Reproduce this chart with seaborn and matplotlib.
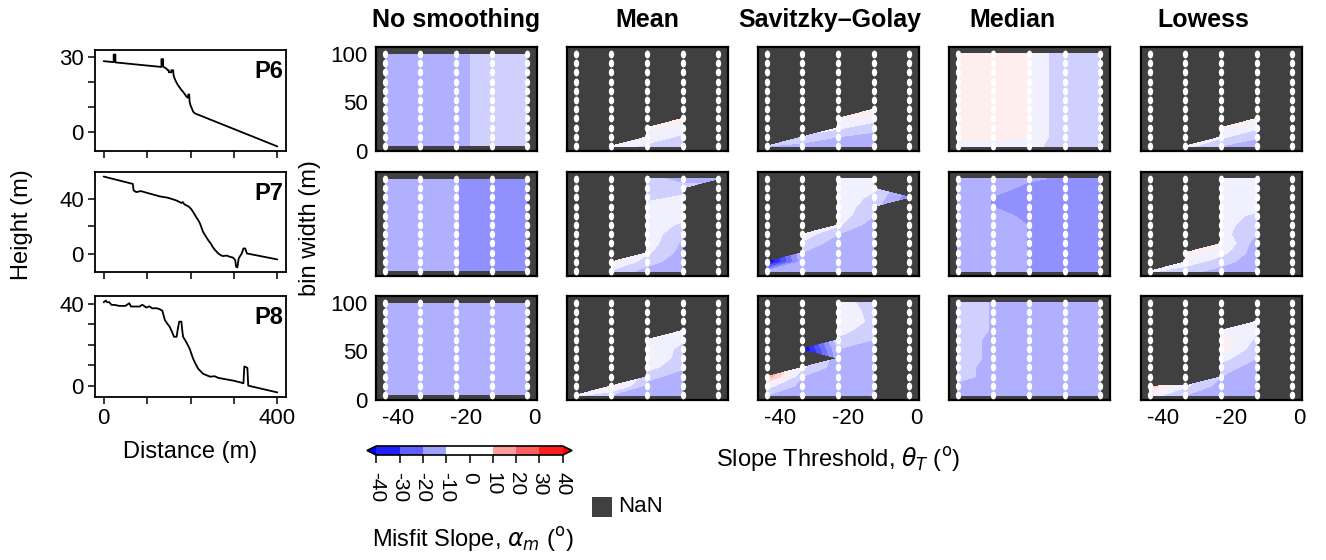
import numpy as np
import pandas as pd
import matplotlib
matplotlib.use("Agg")
import matplotlib.pyplot as plt
import seaborn as sns
from matplotlib.path import Path
from matplotlib.markers import MarkerStyle
from matplotlib.colors import ListedColormap, BoundaryNorm, Normalize
from matplotlib.cm import ScalarMappable
from matplotlib.patches import Rectangle

N = np.nan

# ---------------- profile data ----------------
profile_names = ["P6", "P7", "P8"]
p6_distance = [0, 23, 23, 27, 27, 133, 133, 137, 137, 144, 148, 150, 150, 156, 156, 160, 161,
               163, 166, 170, 174, 178, 182, 186, 190, 194, 195, 197, 198, 200, 203, 206, 210, 400]
p6_height = [28.2, 27.8, 30.8, 30.8, 27.7, 25.9, 29.0, 29.0, 26.0, 25.3, 24.6, 24.6, 23.8, 23.8, 24.6,
             24.6, 22.6, 21.5, 20.3, 19.0, 18.0, 17.0, 16.2, 15.3, 14.3, 13.7, 15.0, 15.0, 12.0, 10.7,
             9.5, 8.2, 7.5, -5.6]
p7_distance = [0, 67, 69, 75, 86, 100, 113, 129, 148, 160, 167, 175, 179, 182, 186, 195, 201, 207,
               213, 218, 222, 229, 235, 241, 247, 252, 258, 264, 270, 275, 283, 291, 298, 303, 305,
               308, 311, 318, 322, 326, 330, 400]
p7_height = [56, 50.7, 46, 44.8, 45.5, 44.2, 43.1, 41.7, 40.7, 39.5, 38.8, 37.6, 36.9, 37.6, 35.9,
             34.5, 32.8, 30.0, 26.8, 24.5, 22, 16, 13, 10, 7.5, 4.8, 2.5, 0.5, -0.8, -1.4, -1.0,
             -1.9, -2.5, -4.3, -9.1, -9.6, -3.1, 0.5, 4.1, 4.1, 0.5, -3.8]
p8_distance = [0, 5, 8, 13, 18, 25, 36, 50, 59, 63, 72, 83, 88, 91, 98, 105, 112, 121, 129, 135,
               141, 146, 152, 157, 162, 168, 171, 174, 179, 181, 183, 190, 198, 206, 212, 218, 229,
               245, 256, 264, 300, 322, 324, 331, 333, 400]
p8_height = [40.8, 41.6, 40.8, 40.8, 39.5, 39.5, 39.0, 39.0, 40.3, 38.7, 38.7, 38.7, 39.5, 39.3,
             38.2, 38.8, 37.8, 37.9, 37.4, 36.7, 32.1, 30.5, 28.8, 26.5, 23.9, 23.9, 28.0, 31.3,
             31.3, 27.0, 23.9, 21.4, 18.1, 13.2, 10.5, 8.2, 5.8, 4.4, 4.6, 3.8, 2.4, 1.2, 9.4, 8.7,
             0.0, -3.3]
profile_yticks = [[0, 10, 20, 30], [0, 20, 40], [0, 10, 20, 30, 40]]

# ---------------- misfit grids ----------------
method_names = ["No smoothing", "Mean", "Savitzky\u2013Golay", "Median", "Lowess"]
slope_thresholds = [-44, -33.5, -23, -12.5, -2]
bin_widths = [5, 14.5, 24, 33.5, 43, 52.5, 62, 71.5, 81, 90.5, 100]
# rows: bin widths (bottom -> top); columns: slope thresholds

p6_none = [[-12, -12, -12, -7, -7], [-12, -12, -12, -7, -7], [-12, -12, -12, -7, -7],
           [-12, -12, -12, -7, -7], [-12, -12, -12, -7, -7], [-12, -12, -12, -7, -7],
           [-12, -12, -12, -7, -7], [-12, -12, -12, -7, -7], [-12, -12, -12, -7, -7],
           [-12, -12, -12, -7, -7], [-12, -12, -12, -7, -7]]
p6_mean = [[N, -2, -6, -10, N], [N, N, -2, -6, N], [N, N, 1, -2, N], [N, N, N, 2, N],
           [N, N, N, N, N], [N, N, N, N, N], [N, N, N, N, N], [N, N, N, N, N],
           [N, N, N, N, N], [N, N, N, N, N], [N, N, N, N, N]]
p6_sg = [[-10, -12, -13, -14, N], [N, -6, -10, -12, N], [N, N, -4, -8, N], [N, N, 2, -3, N],
         [N, N, N, 2, N], [N, N, N, N, N], [N, N, N, N, N], [N, N, N, N, N],
         [N, N, N, N, N], [N, N, N, N, N], [N, N, N, N, N]]
p6_median = [[-3, -3, -3, -8, -8], [2, 2, 0.1, -9.2, -8], [2, 2, 0.1, -9.2, -8],
             [2, 2, 0.1, -9.2, -8], [2, 2, 0.1, -9.2, -8], [2, 2, 0.1, -9.2, -8],
             [2, 2, 0.1, -9.2, -8], [2, 2, 0.1, -9.2, -8], [2, 2, 0.1, -9.2, -8],
             [2, 2, 0.1, -9.2, -8], [2, 2, 0.1, -9.2, -8]]
p6_lowess = [[N, -3, -10, -14, N], [N, N, -4, -9, N], [N, N, 1, -4, N], [N, N, N, 2, N],
             [N, N, N, N, N], [N, N, N, N, N], [N, N, N, N, N], [N, N, N, N, N],
             [N, N, N, N, N], [N, N, N, N, N], [N, N, N, N, N]]

p7_none = [[-12, -12, -14.8, -17, -17], [-12, -12, -14.8, -17, -17], [-12, -12, -14.8, -17, -17],
           [-12, -12, -14.8, -17, -17], [-12, -12, -14.8, -17, -17], [-12, -12, -14.8, -17, -17],
           [-12, -12, -14.8, -17, -17], [-12, -12, -14.8, -17, -17], [-12, -12, -14.8, -17, -17],
           [-12, -12, -14.8, -17, -17], [-12, -12, -14.8, -17, -17]]
p7_mean = [[N, -6, -12, -13, N], [N, 2, -8, -13, N], [N, N, -4, -12, N], [N, N, -2, -11, N],
           [N, N, -2, -9, N], [N, N, -2, -6, N], [N, N, -2, -3, N], [N, N, -3, -3, N],
           [N, N, -7, -4, N], [N, N, -8, -8, N], [N, N, -8, -12, -12]]
p7_sg = [[-14, -13, -13, -13, N], [-42, -12, -13, -13, N], [N, -10, -13, -13, N],
         [N, -6, -13, -13, N], [N, -2, -10, -13, N], [N, N, -4, -13, N], [N, N, -2, -10, N],
         [N, N, -2, -8, N], [N, N, -2, -6, -18], [N, N, -2, -4, N], [N, N, -2, -3, N]]
p7_median = [[-12, -12, -15.2, -17, -17], [-12, -12, -15.2, -17, -17], [-12, -12, -15.2, -17, -17],
             [-12, -12, -15.2, -17, -17], [-12, -12, -15.2, -17, -17], [-12, -12, -15.2, -17, -17],
             [-12, -12, -17, -17, -17], [-12, -15.3, -17, -17, -17], [-12, -15.3, -17, -17, -17],
             [-12, -12, -17, -17, -17], [-12, -12, -14, -16, -16]]
p7_lowess = [[-4, -8, -12, -13, N], [N, -2, -8, -13, N], [N, 3, -3, -13, N], [N, N, 1, -13, N],
             [N, N, -3, -10, N], [N, N, -3, -8, N], [N, N, -3, -6, N], [N, N, -3, -3, N],
             [N, N, -3, -3, N], [N, N, -3, -3, N], [N, N, -3, -3, N]]

p8_none = [[-12, -12, -12, -12, -12], [-12, -12, -12, -12, -12], [-12, -12, -12, -12, -12],
           [-12, -12, -12, -12, -12], [-12, -12, -12, -12, -12], [-12, -12, -12, -12, -12],
           [-12, -12, -12, -12, -12], [-12, -12, -12, -12, -12], [-12, -12, -12, -12, -12],
           [-12, -12, -12, -12, -12], [-12, -12, -12, -12, -12]]
p8_mean = [[-3, -10, -13, -13, N], [N, 3, -12, -13, N], [N, N, -8, -13, N], [N, N, -3, -9, N],
           [N, N, 1, -8, N], [N, N, 1, -7, N], [N, N, -1, -4, N], [N, N, N, -3, N],
           [N, N, N, N, N], [N, N, N, N, N], [N, N, N, N, N]]
p8_sg = [[-10, -13, -13, -13, N], [-3, -12, -13, -13, N], [14, -10, -13, -13, N],
         [N, -4, -13, -13, N], [N, N, -12, -13, N], [N, -42, -10, -13, N], [N, N, -6, -10, N],
         [N, N, -3, -8, N], [N, N, 1, -7, N], [N, N, -1, -7, N], [N, N, -3, -7, N]]
p8_median = [[-12, -12, -12.5, -12.5, -12.5], [-12, -12, -12.5, -12.5, -12.5],
             [-7, -13, -12.5, -12.5, -12.5], [-7, -13, -12.5, -12.5, -12.5],
             [-7, -11.5, -12.5, -12.5, -12.5], [-7, -11.5, -12.5, -12.5, -12.5],
             [-7, -11.5, -12.5, -12.5, -12.5], [-7, -10.5, -12.5, -12.5, -12.5],
             [-7, -10.5, -12.5, -12.5, -12.5], [-7, -10.5, -12.5, -12.5, -12.5],
             [-7, -10.5, -12.5, -12.5, -12.5]]
p8_lowess = [[-2, -10, -13, -13, N], [8, -4, -12, -13, N], [N, N, -10, -13, N], [N, N, -7, -13, N],
             [N, N, -3, -10, N], [N, N, 2, -8, N], [N, N, 3, -6, N], [N, N, -1, -4, N],
             [N, N, N, -4, N], [N, N, N, N, N], [N, N, N, N, N]]

colorbar_bounds = [-40, -30, -20, -10, 0, 10, 20, 30, 40]

# ---------------- style ----------------
sns.set_theme(style="ticks")
plt.rcParams["font.family"] = ["Liberation Sans", "DejaVu Sans"]
plt.rcParams["axes.unicode_minus"] = False
plt.rcParams["mathtext.fontset"] = "dejavusans"
for key in ["text.color", "axes.labelcolor", "xtick.color", "ytick.color", "axes.edgecolor"]:
    plt.rcParams[key] = "black"

W, H = 1326, 560
fig = plt.figure(figsize=(W / 100, H / 100), dpi=100)


def rect(l, t, w, h):
    return [l / W, 1 - (t + h) / H, w / W, h / H]


# ---------------- profiles ----------------
profiles = [(p6_distance, p6_height), (p7_distance, p7_height), (p8_distance, p8_height)]
prof_tops = [50, 172, 296]
prof_h = [101, 100, 101]
for i, (dist, hgt) in enumerate(profiles):
    ax = fig.add_axes(rect(95, prof_tops[i], 191, prof_h[i]))
    df = pd.DataFrame({"distance": dist, "height": hgt})
    sns.lineplot(data=df, x="distance", y="height", sort=False, estimator=None,
                 color="black", lw=1.3, ax=ax)
    ax.margins(0.05)
    ax.set_xticks([0, 100, 200, 300, 400])
    ax.set_xticklabels(["0", "", "", "", "400"])
    if i < 2:
        ax.tick_params(axis="x", labelbottom=False)
    yt = profile_yticks[i]
    ax.set_yticks(yt)
    ax.set_yticklabels([str(t) if t in (yt[0], yt[-1]) else "" for t in yt])
    ax.set_xlabel("")
    ax.set_ylabel("")
    ax.tick_params(direction="out", length=5, width=1.1, color="black", labelcolor="black",
                   labelsize=16, pad=3)
    for s in ax.spines.values():
        s.set_color("black")
        s.set_linewidth(1.3)
    ax.text(0.985, 0.79, profile_names[i], transform=ax.transAxes, ha="right", va="center",
            fontsize=17, weight="bold", color="black")

# ---------------- contour panels ----------------
grids = [[p6_none, p6_mean, p6_sg, p6_median, p6_lowess],
         [p7_none, p7_mean, p7_sg, p7_median, p7_lowess],
         [p8_none, p8_mean, p8_sg, p8_median, p8_lowess]]
cont_lefts = [376, 567, 758, 949, 1141]
cont_tops = [47, 172, 296]
levels = np.arange(-50, 55, 5)
norm = Normalize(-40, 40)
TT, BB = np.meshgrid(slope_thresholds, bin_widths)
dots = pd.DataFrame({"threshold": TT.ravel(), "bin": BB.ravel()})
circ = Path.unit_circle()
ellipse = MarkerStyle(Path(circ.vertices * np.array([0.68, 1.0]), circ.codes))

for r in range(3):
    for c in range(5):
        ax = fig.add_axes(rect(cont_lefts[c], cont_tops[r], 161, 104))
        ax.set_facecolor("#404040")
        Z = np.ma.masked_invalid(np.array(grids[r][c], dtype=float))
        ax.contourf(TT, BB, Z, levels=levels, cmap="bwr", norm=norm, extend="both",
                    corner_mask=True, zorder=1)
        sns.scatterplot(data=dots, x="threshold", y="bin", marker=ellipse, s=32, color="white",
                        linewidth=0, ax=ax, legend=False, zorder=3)
        ax.set_xlim(-46.6, 0.9)
        ax.set_ylim(0, 107)
        if r == 2 and c in (0, 2, 4):
            ax.set_xticks([-40, -20, 0])
        else:
            ax.set_xticks([])
        if c == 0 and r in (0, 2):
            ax.set_yticks([0, 50, 100])
        else:
            ax.set_yticks([])
        ax.set_xlabel("")
        ax.set_ylabel("")
        ax.tick_params(length=0, labelsize=16, pad=6, labelcolor="black")
        for s in ax.spines.values():
            s.set_color("black")
            s.set_linewidth(1.6)

title_x = [456, 647, 830, 1012, 1203]
for c, name in enumerate(method_names):
    fig.text(title_x[c] / W, 1 - 20 / H, name, ha="center", va="center", fontsize=18,
             weight="bold", color="black")

# ---------------- colorbar ----------------
bwr = plt.get_cmap("bwr")
seg = [bwr(norm(-35)), bwr(norm(-25)), bwr(norm(-15)), "white", "white",
       bwr(norm(15)), bwr(norm(25)), bwr(norm(35))]
cb_cmap = ListedColormap(seg)
cb_cmap.set_under(bwr(0.0))
cb_cmap.set_over(bwr(1.0))
cax = fig.add_axes(rect(367, 446, 205, 9))
cb = fig.colorbar(ScalarMappable(norm=BoundaryNorm(colorbar_bounds, len(seg)), cmap=cb_cmap),
                  cax=cax, orientation="horizontal", extend="both", ticks=colorbar_bounds)
cb.ax.tick_params(direction="out", length=6, width=1.1, color="black", labelcolor="black",
                  labelsize=15, labelrotation=270, pad=6)
cb.outline.set_linewidth(1.2)
cb.outline.set_edgecolor("black")

# NaN swatch
fig.add_artist(Rectangle((592 / W, 1 - 517 / H), 20 / W, 20 / H, transform=fig.transFigure,
                         facecolor="#404040", edgecolor="none"))
fig.text(618 / W, 1 - 507 / H, "NaN", ha="left", va="center", fontsize=16, color="black")

# ---------------- labels ----------------
fig.text(22 / W, 1 - 225 / H, "Height (m)", rotation=90, ha="center", va="center", fontsize=17)
fig.text(190 / W, 1 - 452 / H, "Distance (m)", ha="center", va="center", fontsize=17)
fig.text(310 / W, 1 - 228 / H, "bin width (m)", rotation=90, ha="center", va="center",
         fontsize=17)
fig.text(838 / W, 1 - 467 / H, r"Slope Threshold, $\theta_T$ ($^{\mathrm{o}}$)", ha="center",
         va="baseline", fontsize=17)
fig.text(372 / W, 1 - 547 / H, r"Misfit Slope, $\alpha_m$ ($^{\mathrm{o}}$)", ha="left",
         va="baseline", fontsize=17)

fig.savefig("out.png", dpi=100)
